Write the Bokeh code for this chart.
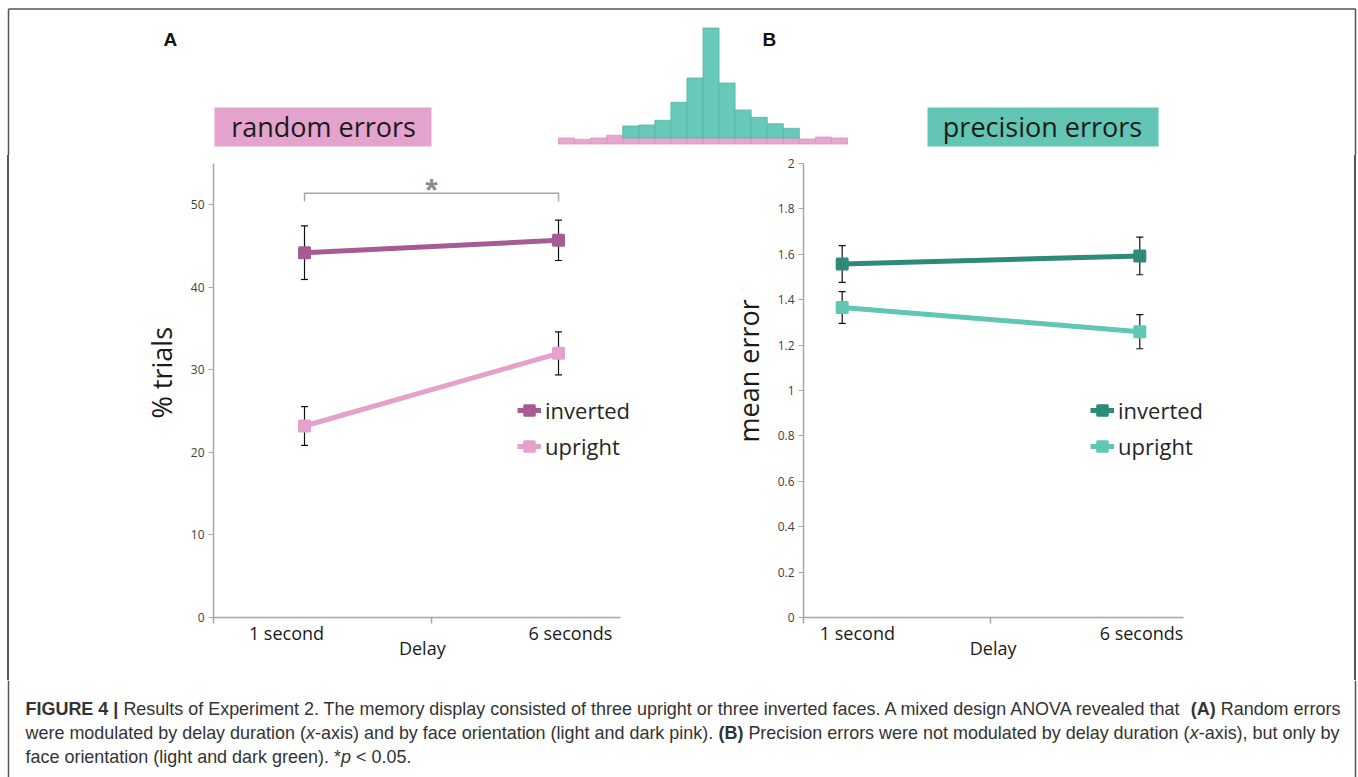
from bokeh.plotting import figure
from bokeh.layouts import column, row
from bokeh.models import Range1d, FixedTicker, Whisker, TeeHead, ColumnDataSource, Title, Div, Spacer
from bokeh.core.properties import value
from bokeh.embed import file_html
from bokeh.resources import INLINE

# ---------------- data ----------------
delay_labels = ["1 second", "6 seconds"]
delay_index = [0, 1]
series_names = ["inverted", "upright"]

rand_inverted = [44.2, 45.7]
rand_inverted_sem = [3.25, 2.45]
rand_upright = [23.2, 32.0]
rand_upright_sem = [2.35, 2.6]

prec_inverted = [1.557, 1.593]
prec_inverted_sem = [0.081, 0.083]
prec_upright = [1.366, 1.259]
prec_upright_sem = [0.07, 0.075]

rand_yticks = [0, 10, 20, 30, 40, 50]
rand_ytick_labels = ["0", "10", "20", "30", "40", "50"]
prec_yticks = [0, 0.2, 0.4, 0.6, 0.8, 1, 1.2, 1.4, 1.6, 1.8, 2]
prec_ytick_labels = ["0", "0.2", "0.4", "0.6", "0.8", "1", "1.2", "1.4", "1.6", "1.8", "2"]

sig_pair = [0, 1]
sig_label = "*"

# schematic error distribution (arbitrary units): uniform (random) + peaked (precision)
hist_uniform = [6, 4.7, 6, 8.7, 6, 6, 6, 6, 6, 6, 6, 6, 6, 6, 6, 5, 7, 6]
hist_precise = [0, 0, 0, 0, 12, 13, 17.7, 35.7, 60, 110, 55, 28, 20.7, 14.3, 9.7, 0, 0, 0]

caption_lines = [
    [("FIGURE 4 | ", "bold"),
     ("Results of Experiment 2. The memory display consisted of three upright or three inverted faces. "
      "A mixed design ANOVA revealed that ", "normal"),
     ("(A)", "bold"), (" Random errors", "normal")],
    [("were modulated by delay duration (", "normal"), ("x", "italic"),
     ("-axis) and by face orientation (light and dark pink). ", "normal"), ("(B)", "bold"),
     (" Precision errors were not modulated by delay duration (", "normal"), ("x", "italic"),
     ("-axis), but only by", "normal")],
    [("face orientation (light and dark green). *", "normal"), ("p", "italic"), (" < 0.05.", "normal")],
]

# ---------------- style ----------------
PINK_DARK = "#a65b92"
PINK_LIGHT = "#e5a1cb"
GREEN_DARK = "#2e8b78"
GREEN_LIGHT = "#5fc7b3"
BOX_PINK = "#e4a3cc"
BOX_GREEN = "#63c6b4"
HIST_PINK = "#e8a7cf"
HIST_GREEN = "#69c9b8"
AXIS_GRAY = "#a6a6a6"
BORDER = "#555555"
FONT = "Open Sans"
NBSP = "\u00a0"

W = 1358
TOP_H = 155
ROW_H = 525
CAP_H = 777 - TOP_H - ROW_H
FRAME_TOP = 8
FRAME_H = 454


def base_fig(width, height, xr, yr):
    f = figure(width=width, height=height, x_range=Range1d(*xr), y_range=Range1d(*yr),
               x_axis_type=None, y_axis_type=None, output_backend="svg",
               toolbar_location=None, min_border=0)
    f.outline_line_color = None
    return f


# ---------------- top decoration ----------------
top = base_fig(W, TOP_H, (0, W), (TOP_H, 0))
top.line([8, 1355], [8.5, 8.5], line_color=BORDER, line_width=1.5)
top.line([8, 8], [8.5, TOP_H], line_color=BORDER, line_width=1.5)
top.line([1355, 1355], [8.5, TOP_H], line_color=BORDER, line_width=1.5)

top.text(x=[163, 762], y=[39, 39], text=["A", "B"], text_font=value("Liberation Sans"),
         text_font_style="bold", text_font_size="19px", text_baseline="middle", text_color="#111111")

top.quad(left=[214], right=[431], top=[107], bottom=[146], fill_color=BOX_PINK, line_color=None)
top.quad(left=[927], right=[1158], top=[107], bottom=[146], fill_color=BOX_GREEN, line_color=None)
top.text(x=[323, 1042], y=[126, 126], text=["random errors", "precision errors"],
         text_font=value(FONT), text_font_size="27px", text_align="center",
         text_baseline="middle", text_color="#1a1a1a")

BIN_W = (847 - 558) / len(hist_uniform)
HIST_BASE = 143.5
top.extra_x_ranges = {"hx": Range1d(-558 / BIN_W, (W - 558) / BIN_W)}
top.extra_y_ranges = {"hy": Range1d(-(TOP_H - HIST_BASE), HIST_BASE)}
centers = [i + 0.5 for i in range(len(hist_uniform))]
top.vbar(x=centers, width=1, bottom=0, top=hist_uniform, x_range_name="hx", y_range_name="hy",
         fill_color=HIST_PINK, line_color="#d794be", line_width=0.8)
gx = [c for c, v in zip(centers, hist_precise) if v > 0]
gb = [u for u, v in zip(hist_uniform, hist_precise) if v > 0]
gt = [u + v for u, v in zip(hist_uniform, hist_precise) if v > 0]
top.vbar(x=gx, width=1, bottom=gb, top=gt, x_range_name="hx", y_range_name="hy",
         fill_color=HIST_GREEN, line_color="#55b5a4", line_width=0.8)


# ---------------- charts ----------------
def chart(width, mb_left, mb_right, xr, xbounds, yr, yticks, ylabels, ytitle, ytitle_offset,
          inv, inv_err, up, up_err, c_inv, c_up, xtick_pos, xminor, legend_loc, label_pad):
    p = figure(width=width, height=ROW_H, x_range=Range1d(*xr), y_range=Range1d(*yr),
               output_backend="svg", toolbar_location=None,
               min_border_left=mb_left, min_border_right=mb_right,
               min_border_top=FRAME_TOP, min_border_bottom=ROW_H - FRAME_TOP - FRAME_H)
    p.outline_line_color = None
    p.grid.visible = False
    for name, ys, es, c in [(series_names[0], inv, inv_err, c_inv), (series_names[1], up, up_err, c_up)]:
        src = ColumnDataSource(dict(x=delay_index, y=ys,
                                    upper=[a + b for a, b in zip(ys, es)],
                                    lower=[a - b for a, b in zip(ys, es)]))
        w = Whisker(base="x", upper="upper", lower="lower", source=src, line_color="#111111",
                    line_width=1.2,
                    upper_head=TeeHead(size=7, line_color="#111111", line_width=1.2),
                    lower_head=TeeHead(size=7, line_color="#111111", line_width=1.2),
                    level="underlay")
        p.add_layout(w)
        p.line("x", "y", source=src, line_width=5, line_color=c, legend_label=name)
        p.scatter("x", "y", source=src, marker="square", size=10, fill_color=c, line_color=c,
                  line_width=3, line_join="round", legend_label=name)

    xa = p.xaxis[0]
    xa.bounds = xbounds
    xa.ticker = FixedTicker(ticks=xtick_pos, minor_ticks=xminor)
    xa.major_label_overrides = {t: l for t, l in zip(xtick_pos, delay_labels)}
    xa.axis_line_color = AXIS_GRAY
    xa.axis_line_width = 1.5
    xa.major_tick_out = 0
    xa.major_tick_in = 0
    xa.minor_tick_out = 6
    xa.minor_tick_in = 0
    xa.minor_tick_line_color = AXIS_GRAY
    xa.minor_tick_line_width = 1.5
    xa.major_label_text_font = FONT
    xa.major_label_text_font_size = "18px"
    xa.major_label_text_color = "#1a1a1a"
    xa.major_label_standoff = -3
    # axis title is centred on the frame; trailing no-break spaces move it over the drawn axis
    xa.axis_label = "Delay" + NBSP * label_pad
    xa.axis_label_text_font = FONT
    xa.axis_label_text_font_size = "18px"
    xa.axis_label_text_font_style = "normal"
    xa.axis_label_text_color = "#1a1a1a"
    xa.axis_label_standoff = -12

    ya = p.yaxis[0]
    ya.ticker = FixedTicker(ticks=yticks, minor_ticks=[])
    ya.major_label_overrides = {t: l for t, l in zip(yticks, ylabels)}
    ya.axis_line_color = AXIS_GRAY
    ya.axis_line_width = 1.5
    ya.major_tick_out = 5
    ya.major_tick_in = 0
    ya.major_tick_line_color = AXIS_GRAY
    ya.minor_tick_out = 0
    ya.minor_tick_in = 0
    ya.major_label_text_font = FONT
    ya.major_label_text_font_size = "12px"
    ya.major_label_text_color = "#404040"
    ya.major_label_standoff = 4

    p.add_layout(Title(text=ytitle, align="left", offset=ytitle_offset, text_font=FONT,
                       text_font_size="27px", text_font_style="normal", text_color="#1a1a1a",
                       standoff=16), "left")

    lg = p.legend[0]
    lg.location = legend_loc
    lg.label_text_font = FONT
    lg.label_text_font_size = "22px"
    lg.label_text_color = "#262626"
    lg.glyph_width = 24
    lg.glyph_height = 24
    lg.label_height = 24
    lg.spacing = 6
    lg.padding = 0
    lg.margin = 0
    lg.label_standoff = 4
    lg.border_line_color = None
    lg.background_fill_alpha = 0
    return p


# left chart: canvas x 9..700, frame 213..640, axis drawn 213..620
left = chart(691, 204, 60, (-0.3583, 1.3228), (-0.3583, 1.2441), (0, 55), rand_yticks,
             rand_ytick_labels, "% trials", 199, rand_inverted, rand_inverted_sem, rand_upright,
             rand_upright_sem, PINK_DARK, PINK_LIGHT, [-0.071, 1.047], [-0.357, 0.5], (304, 156), 2)
left.line([sig_pair[0], sig_pair[0], sig_pair[1], sig_pair[1]], [50.4, 51.4, 51.4, 50.4],
          line_color=AXIS_GRAY, line_width=1.5)
left.text(x=[sum(sig_pair) / 2], y=[51.8], text=[sig_label], text_font=value("Liberation Sans"),
          text_font_style="bold", text_font_size="32px", text_align="center",
          text_baseline="alphabetic", text_color="#8c8c8c")

# right chart: canvas x 700..1350, frame 803..1215, axis drawn 803..1183
right = chart(650, 103, 135, (-0.130, 1.2544), (-0.130, 1.147), (0, 2), prec_yticks,
              prec_ytick_labels, "mean error", 175, prec_inverted, prec_inverted_sem, prec_upright,
              prec_upright_sem, GREEN_DARK, GREEN_LIGHT, [0.051, 1.006], [-0.129, 0.5], (287, 156), 7)


def bar(width):
    return Div(text="", width=width, height=ROW_H, margin=0, styles={"background-color": BORDER})


chart_row = row(Spacer(width=7, height=ROW_H, margin=0), bar(2), left, right,
                Spacer(width=4, height=ROW_H, margin=0), bar(2), Spacer(width=2, height=ROW_H, margin=0))

# ---------------- caption ----------------
REG = {' ': 278, 'a': 556, 'b': 556, 'c': 500, 'd': 556, 'e': 556, 'f': 278, 'g': 556, 'h': 556,
       'i': 222, 'j': 222, 'k': 500, 'l': 222, 'm': 833, 'n': 556, 'o': 556, 'p': 556, 'q': 556,
       'r': 333, 's': 500, 't': 278, 'u': 556, 'v': 500, 'w': 722, 'x': 500, 'y': 500, 'z': 500,
       'A': 667, 'B': 667, 'D': 722, 'E': 667, 'F': 611, 'M': 833, 'N': 722, 'O': 778, 'P': 667,
       'R': 722, 'T': 611, 'V': 667, '.': 278, ',': 278, '(': 333, ')': 333, '-': 333, '*': 389,
       '<': 584, '|': 260}
BOLD = {' ': 278, 'F': 611, 'I': 278, 'G': 778, 'U': 722, 'R': 722, 'E': 667, '4': 556, '|': 280,
        '(': 333, ')': 333, 'A': 722, 'B': 722}


def units(s, style):
    tbl = BOLD if style == "bold" else REG
    return sum(tbl.get(ch, 556) for ch in s)


CAP_X0 = 25
line1_units = sum(units(t, s) for t, s in caption_lines[0])
CAP_FS = 1315 * 1000 / line1_units
cx, cy, ct, cs = [], [], [], []
for li, segs in enumerate(caption_lines):
    x = CAP_X0
    for t, s in segs:
        lead = len(t) - len(t.lstrip(" "))
        cx.append(x + lead * 278 * CAP_FS / 1000)
        cy.append(708 + 24 * li)
        ct.append(t.strip(" "))
        cs.append(s)
        x += units(t, s) * CAP_FS / 1000

cap = base_fig(W, CAP_H, (0, W), (777, 777 - CAP_H))
cap.line([8, 8], [777 - CAP_H, 777], line_color=BORDER, line_width=1.5)
cap.line([1355, 1355], [777 - CAP_H, 777], line_color=BORDER, line_width=1.5)
csrc = ColumnDataSource(dict(x=cx, y=cy, text=ct, style=cs))
cap.text(x="x", y="y", text="text", source=csrc, text_font=value("Liberation Sans"),
         text_font_style="style", text_font_size=f"{CAP_FS:.2f}px", text_baseline="middle",
         text_color="#333333")

layout = column(top, chart_row, cap)
open("out.html", "w").write(file_html(layout, INLINE))
